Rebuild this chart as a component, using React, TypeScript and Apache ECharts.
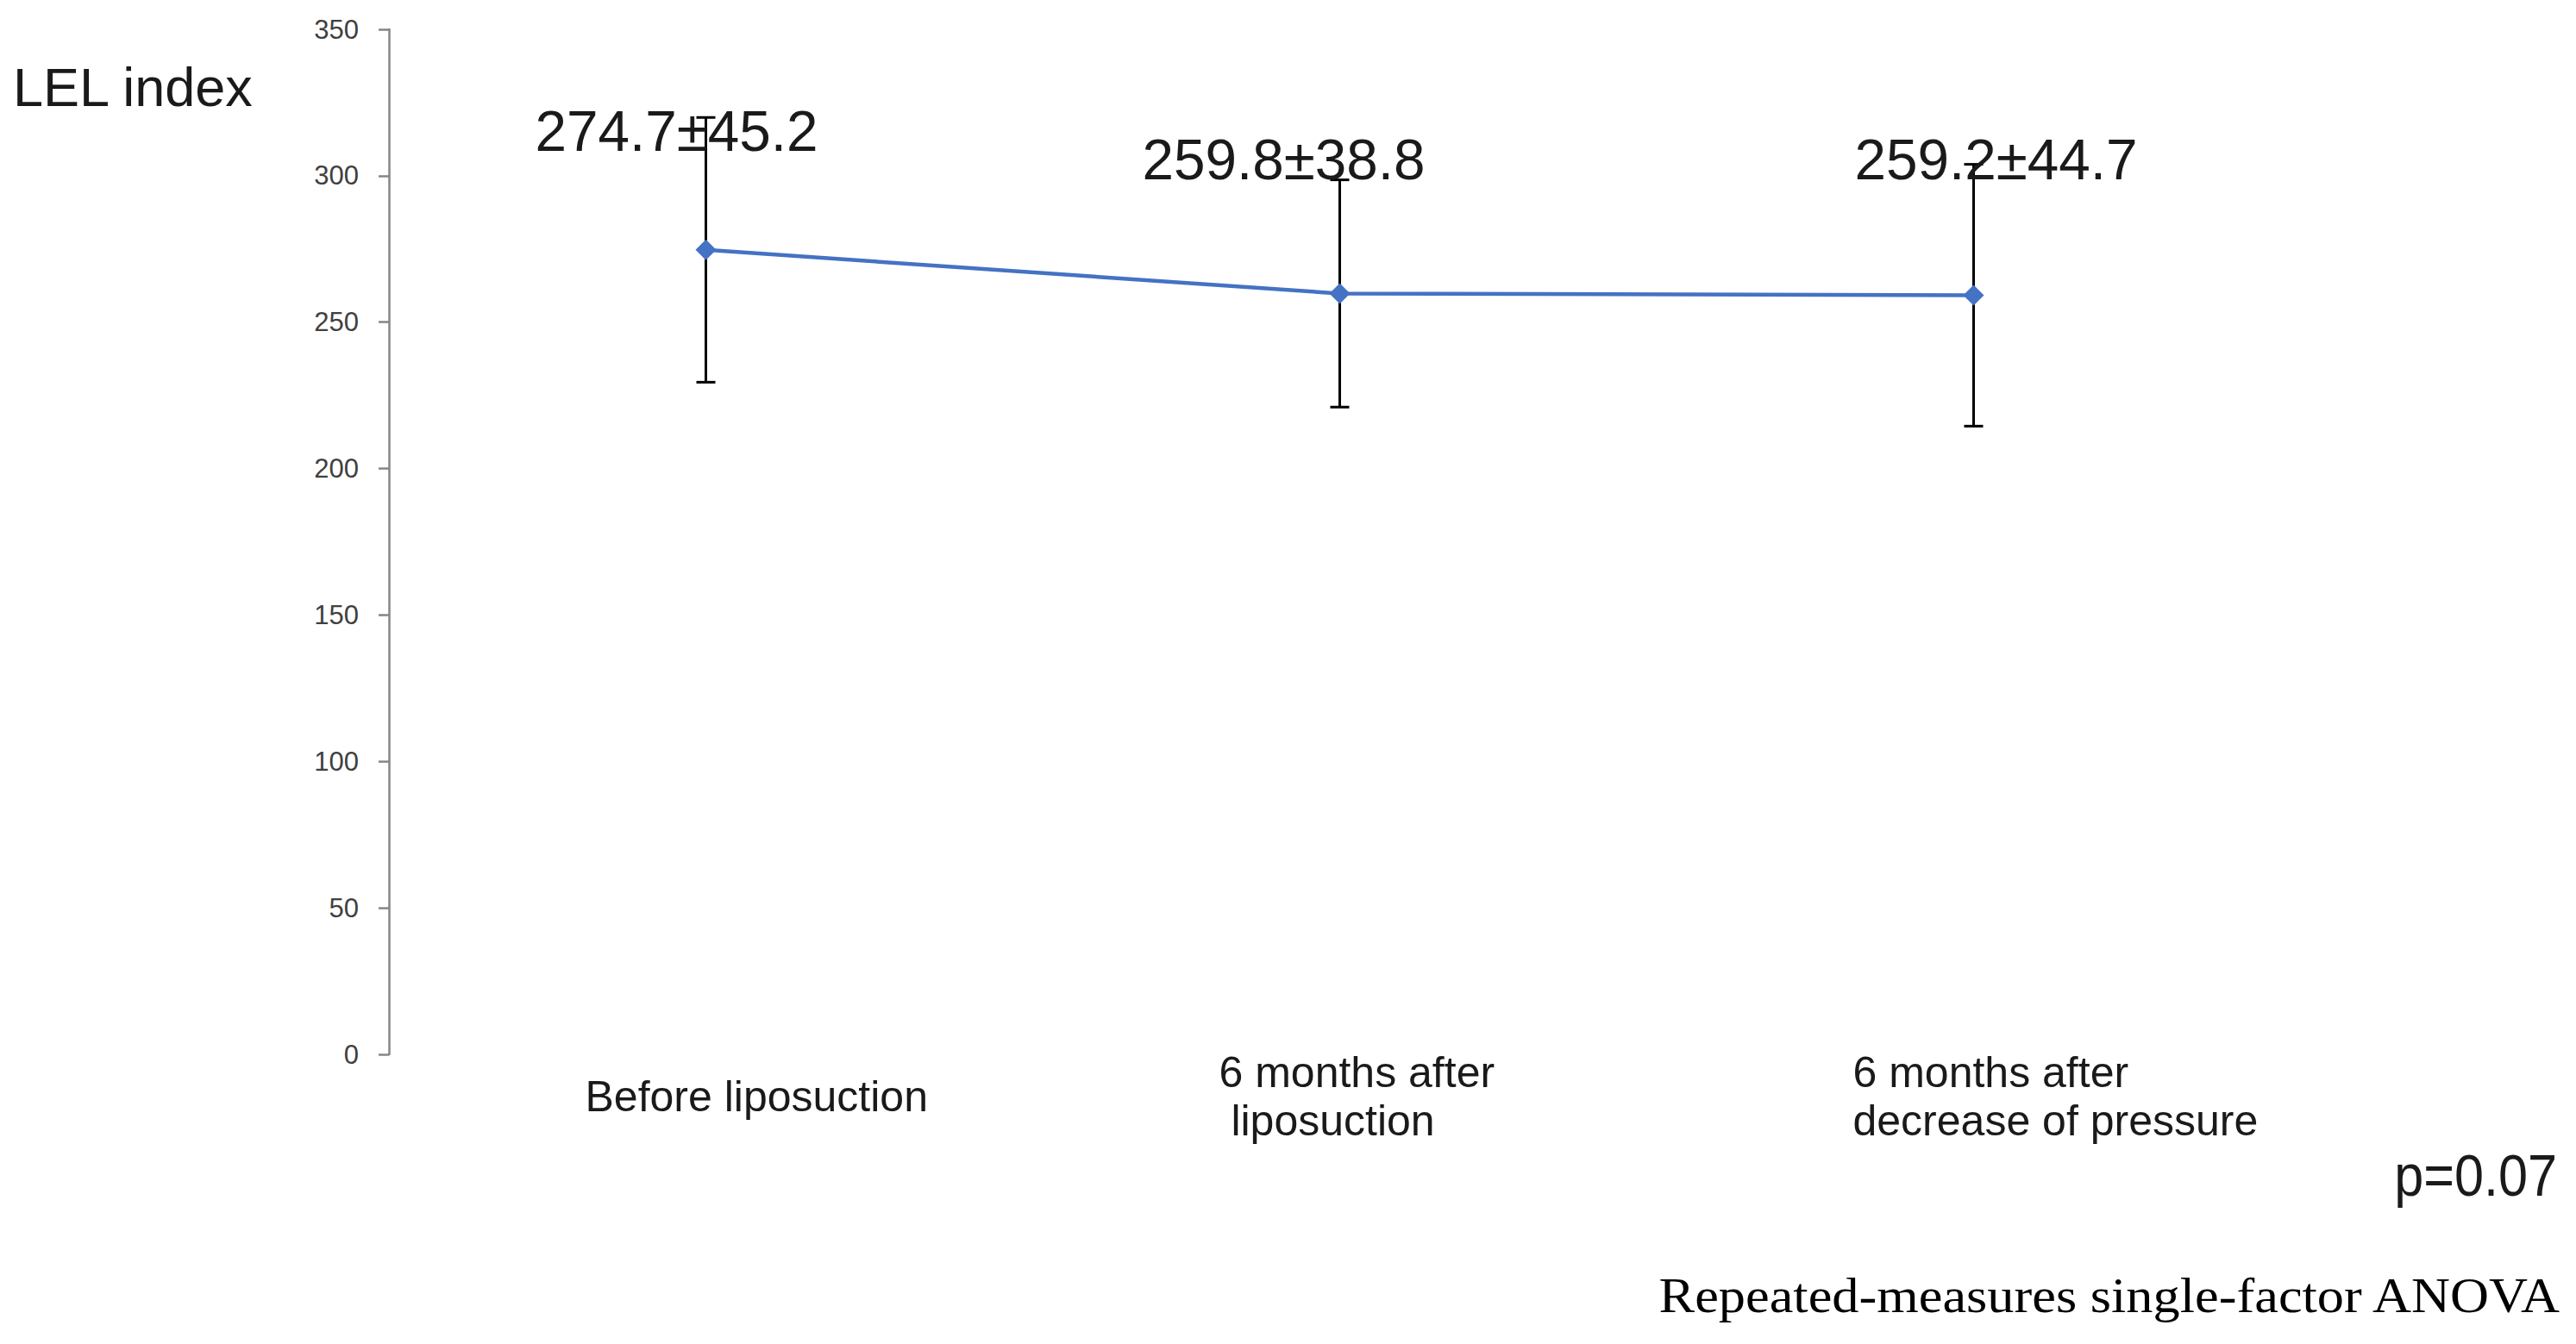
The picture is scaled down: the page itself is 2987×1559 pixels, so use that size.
import React, { useEffect, useRef } from "react";
import * as echarts from "echarts";

// ---- data ----
const categories = [
  "Before liposuction",
  "6 months after\n liposuction",
  "6 months after\ndecrease of pressure",
];
const means = [274.7, 259.8, 259.2];
const sds = [45.2, 38.8, 44.7];
const valueLabels = ["274.7±45.2", "259.8±38.8", "259.2±44.7"];
const yMin = 0;
const yMax = 350;
const yInterval = 50;
const yAxisTitle = "LEL index";
const pValueText = "p=0.07";
const testName = "Repeated-measures single-factor ANOVA";

// ---- layout (pixel offsets relative to the data points) ----
const valueLabelOffsets = [
  [-198, -138],
  [-229, -156],
  [-138, -158],
];
const catLabelDx = -140;
const catLabelDy = 49;

const SANS = '"Liberation Sans", Arial, sans-serif';
const SERIF = '"Liberation Serif", "Times New Roman", serif';

export default function App() {
  const ref = useRef<HTMLDivElement>(null);
  useEffect(() => {
    document.body.style.margin = "0";
    document.body.style.overflow = "hidden";
    const chart = echarts.init(ref.current!, null, { renderer: "svg" });

    const errData = means.map((m, i) => [i, m - sds[i], m + sds[i]]);
    const pointData = means.map((m, i) => [i, m]);
    const catData = categories.map((_, i) => [i, yMin]);

    const option: any = {
      animation: false,
      backgroundColor: "#ffffff",
      grid: { left: 451, top: 34, width: 2205, height: 1189, outerBoundsMode: "none" },
      xAxis: {
        type: "category",
        data: categories,
        boundaryGap: true,
        axisLine: { show: false },
        axisTick: { show: false },
        axisLabel: { show: false },
        splitLine: { show: false },
      },
      yAxis: {
        type: "value",
        min: yMin,
        max: yMax,
        interval: yInterval,
        axisLine: { show: true, lineStyle: { color: "#868686", width: 2.5 } },
        axisTick: { show: true, length: 12, lineStyle: { color: "#868686", width: 2.5 } },
        axisLabel: { fontSize: 31, color: "#404040", margin: 35, fontFamily: SANS },
        splitLine: { show: false },
      },
      series: [
        {
          type: "custom",
          z: 2,
          silent: true,
          data: errData,
          renderItem: (params: any, api: any) => {
            const x = api.value(0);
            const lo = api.coord([x, api.value(1)]);
            const hi = api.coord([x, api.value(2)]);
            const half = 11;
            const st = { stroke: "#000000", lineWidth: 3 };
            return {
              type: "group",
              children: [
                { type: "line", shape: { x1: lo[0], y1: lo[1], x2: hi[0], y2: hi[1] }, style: st },
                { type: "line", shape: { x1: lo[0] - half, y1: lo[1], x2: lo[0] + half, y2: lo[1] }, style: st },
                { type: "line", shape: { x1: hi[0] - half, y1: hi[1], x2: hi[0] + half, y2: hi[1] }, style: st },
              ],
            };
          },
        },
        {
          type: "line",
          z: 3,
          data: means,
          symbol: "diamond",
          symbolSize: 24,
          lineStyle: { color: "#4472C4", width: 4.5 },
          itemStyle: { color: "#4472C4" },
          silent: true,
        },
        {
          type: "custom",
          z: 4,
          silent: true,
          data: pointData,
          renderItem: (params: any, api: any) => {
            const i = params.dataIndex;
            const c = api.coord([api.value(0), api.value(1)]);
            const off = valueLabelOffsets[i];
            return {
              type: "text",
              x: c[0] + off[0],
              y: c[1] + off[1],
              scaleX: 0.98,
              style: {
                text: valueLabels[i],
                fill: "#1a1a1a",
                fontSize: 67,
                fontFamily: SANS,
                align: "left",
                textAlign: "left",
                verticalAlign: "middle",
                textVerticalAlign: "middle",
              },
            };
          },
        },
        {
          type: "custom",
          z: 4,
          silent: true,
          data: catData,
          renderItem: (params: any, api: any) => {
            const i = params.dataIndex;
            const c = api.coord([api.value(0), api.value(1)]);
            return {
              type: "text",
              x: c[0] + catLabelDx,
              y: c[1] + catLabelDy,
              style: {
                text: categories[i],
                fill: "#1a1a1a",
                fontSize: 50,
                lineHeight: 56,
                fontFamily: SANS,
                align: "left",
                textAlign: "left",
                verticalAlign: "middle",
                textVerticalAlign: "middle",
              },
            };
          },
        },
      ],
      graphic: [
        {
          type: "text",
          x: 15,
          y: 101,
          style: {
            text: yAxisTitle,
            fill: "#1a1a1a",
            fontSize: 63,
            fontFamily: SANS,
            align: "left",
            textAlign: "left",
            verticalAlign: "middle",
            textVerticalAlign: "middle",
          },
        },
        {
          type: "text",
          x: 2965,
          y: 1363,
          scaleX: 0.9,
          style: {
            text: pValueText,
            fill: "#1a1a1a",
            fontSize: 68,
            fontFamily: SANS,
            align: "right",
            textAlign: "right",
            verticalAlign: "middle",
            textVerticalAlign: "middle",
          },
        },
        {
          type: "text",
          x: 2968,
          y: 1502,
          scaleX: 1.075,
          style: {
            text: testName,
            fill: "#000000",
            fontSize: 58,
            fontFamily: SERIF,
            align: "right",
            textAlign: "right",
            verticalAlign: "middle",
            textVerticalAlign: "middle",
          },
        },
      ],
    };

    chart.setOption(option);
    return () => chart.dispose();
  }, []);
  return <div ref={ref} style={{ width: 2987, height: 1559, background: "#fff" }} />;
}
